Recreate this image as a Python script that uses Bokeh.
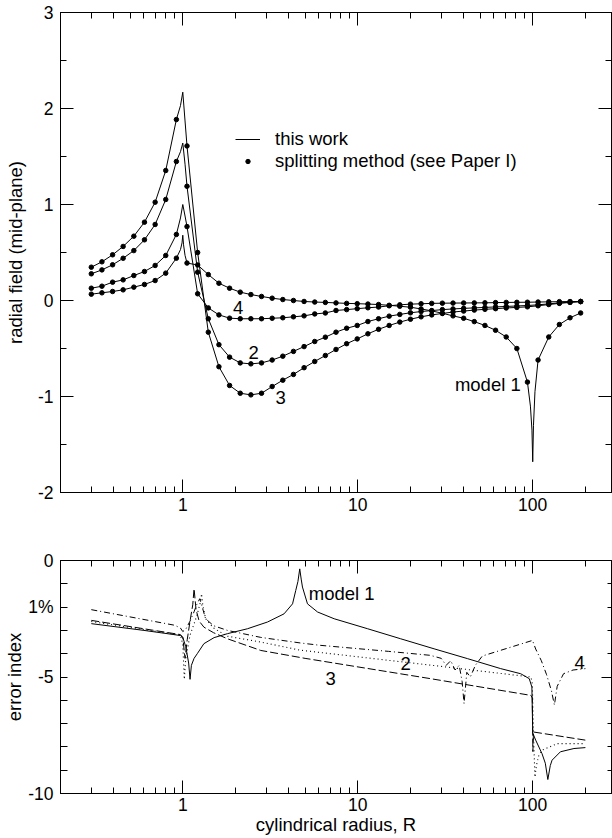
from bokeh.plotting import figure
from bokeh.models import (Range1d, LogAxis, LinearAxis, FixedTicker, Label,
                          Legend, LegendItem, CustomJSTickFormatter)
from bokeh.layouts import column
from bokeh.embed import file_html
from bokeh.resources import INLINE

FONT = "Liberation Sans"

# ---------------- top panel data: radial field (mid-plane) ----------------
R_DOTS = [0.300, 0.345, 0.397, 0.456, 0.525, 0.604, 0.695, 0.799, 0.919,
          1.057, 1.216, 1.399, 1.609, 1.851, 2.130, 2.450, 2.818, 3.242, 3.729,
          4.290, 4.934, 5.676, 6.529, 7.510, 8.639, 9.93, 11.43, 13.15, 15.12,
          17.39, 20.01, 23.01, 26.47, 30.45, 35.03, 40.29, 46.35, 53.32, 61.33,
          70.55, 81.16, 93.3, 107.3, 123.5, 142.0, 163.4, 187.9]

FIELD_M1 = [0.066, 0.080, 0.094, 0.111, 0.139, 0.167, 0.208, 0.285, 0.441,
            0.390, 0.370, 0.270, 0.180, 0.128, 0.087, 0.062, 0.042, 0.024, 0.010,
            0.000, -0.010, -0.016, -0.020, -0.025, -0.030, -0.033, -0.037, -0.042, -0.050,
            -0.060, -0.070, -0.088, -0.108, -0.133, -0.160, -0.185, -0.220, -0.260, -0.310,
            -0.380, -0.500, -0.850, -0.620, -0.380, -0.250, -0.180, -0.130]
FIELD_M2 = [0.278, 0.319, 0.372, 0.440, 0.520, 0.632, 0.792, 1.052, 1.448,
            1.190, 0.295, -0.190, -0.460, -0.590, -0.650, -0.660, -0.650, -0.620, -0.580,
            -0.530, -0.480, -0.427, -0.382, -0.330, -0.289, -0.260, -0.219, -0.190, -0.163,
            -0.145, -0.128, -0.115, -0.105, -0.095, -0.088, -0.082, -0.077, -0.072, -0.067,
            -0.062, -0.057, -0.052, -0.045, -0.035, -0.025, -0.017, -0.010]
FIELD_M3 = [0.347, 0.403, 0.476, 0.563, 0.670, 0.816, 1.024, 1.354, 1.885,
            1.610, 0.500, -0.330, -0.690, -0.885, -0.966, -0.983, -0.966, -0.896, -0.830,
            -0.770, -0.700, -0.635, -0.573, -0.510, -0.450, -0.400, -0.347, -0.300, -0.260,
            -0.225, -0.195, -0.170, -0.150, -0.135, -0.120, -0.110, -0.100, -0.092, -0.085,
            -0.078, -0.072, -0.066, -0.055, -0.042, -0.030, -0.020, -0.012]
FIELD_M4 = [0.128, 0.149, 0.191, 0.215, 0.260, 0.302, 0.365, 0.469, 0.688,
            0.770, 0.070, -0.077, -0.150, -0.184, -0.190, -0.190, -0.190, -0.185, -0.180,
            -0.170, -0.160, -0.140, -0.130, -0.104, -0.095, -0.085, -0.076, -0.068, -0.055,
            -0.045, -0.038, -0.034, -0.030, -0.028, -0.027, -0.026, -0.025, -0.024, -0.022,
            -0.020, -0.019, -0.018, -0.016, -0.014, -0.012, -0.011, -0.010]

# extra points of the continuous solutions at the edge cusps
CUSP_R_M1 = [0.97, 0.99, 1.0, 1.01, 1.03, 97.0, 99.0, 100.0, 101.0, 103.0]
CUSP_M1 = [0.53, 0.60, 0.68, 0.58, 0.47, -1.10, -1.35, -1.68, -1.30, -0.95]
CUSP_R_M2 = [0.97, 1.0, 1.03]
CUSP_M2 = [1.55, 1.64, 1.42]
CUSP_R_M3 = [0.97, 1.0, 1.03]
CUSP_M3 = [2.03, 2.17, 1.87]
CUSP_R_M4 = [0.97, 1.0, 1.03]
CUSP_M4 = [0.86, 1.00, 0.88]

# ---------------- bottom panel data: error index ----------------
ERR_R_M1 = [0.3, 0.6, 0.97, 1.0, 1.04, 1.08, 1.10, 1.12, 1.16, 1.21, 1.32, 1.51, 1.8,
            2.34, 3.05, 3.79, 4.24, 4.42, 4.55, 4.66, 4.75, 4.83, 5.16, 5.89, 7.33,
            11.4, 17.6, 27.3, 42.3, 65.6, 85.4, 95.5, 98.9, 100.0, 104.0, 113.0,
            118.0, 122.0, 126.0, 129.0, 144.0, 172.0, 200.0]
ERR_M1 = [-2.71, -3.00, -3.22, -3.30, -3.70, -4.40, -5.10, -4.50, -4.20, -4.00, -3.57, -3.31, -3.14,
          -2.93, -2.64, -2.29, -1.86, -1.29, -0.90, -0.36, -0.80, -1.14, -1.86, -2.21, -2.50,
          -2.93, -3.36, -3.79, -4.21, -4.64, -4.86, -5.07, -5.43, -7.40, -7.71, -8.29,
          -8.70, -9.40, -8.80, -8.57, -8.21, -8.07, -8.03]

ERR_R_M2 = [0.3, 0.97, 1.0, 1.02, 1.04, 1.1, 1.2, 1.26, 1.28, 1.3, 1.35, 1.5, 1.8, 2.79,
            4.7, 26.0, 97.7, 99.5, 101.0, 103.0, 105.0, 108.0, 113.0, 138.0, 200.0]
ERR_M2 = [-2.62, -3.20, -3.60, -5.10, -4.20, -3.20, -2.40, -1.80, -1.43, -1.90, -2.50, -2.90, -3.25, -3.50,
          -3.85, -4.49, -5.00, -5.30, -7.50, -9.30, -8.80, -8.40, -8.14, -7.86, -7.86]

ERR_R_M3 = [0.3, 0.97, 1.0, 1.03, 1.06, 1.1, 1.14, 1.16, 1.19, 1.24, 1.32, 1.5, 1.8, 2.79,
            5.0, 26.0, 97.7, 99.5, 100.2, 101.0, 200.0]
ERR_M3 = [-2.57, -3.18, -3.30, -4.20, -3.40, -2.60, -1.90, -1.21, -2.10, -2.60, -2.86, -3.10, -3.36, -3.86,
          -4.20, -5.07, -5.79, -5.90, -8.20, -7.36, -7.71]

ERR_R_M4 = [0.3, 0.9, 0.97, 1.0, 1.04, 1.1, 1.16, 1.2, 1.25, 1.28, 1.35, 1.5, 1.8, 2.79,
            4.7, 6.1, 15.0, 26.0, 30.0, 32.0, 34.0, 36.0, 38.0, 39.5, 40.5, 42.0, 44.0,
            47.0, 51.5, 99.7, 104.0, 112.0, 120.0, 128.0, 133.0, 138.0, 150.0, 170.0, 200.0]
ERR_M4 = [-2.11, -2.78, -2.90, -3.05, -2.95, -2.60, -2.20, -1.90, -1.64, -1.90, -2.50, -2.80, -3.00, -3.30,
          -3.54, -3.64, -3.90, -4.07, -4.20, -4.50, -4.30, -4.70, -4.50, -5.20, -6.14, -4.80, -5.00,
          -4.50, -4.10, -3.43, -3.80, -4.30, -4.90, -5.60, -6.20, -5.40, -4.86, -4.70, -4.64]

X_MAJOR = [1, 10, 100]
X_MINOR = [0.2, 0.3, 0.4, 0.5, 0.6, 0.7, 0.8, 0.9, 2, 3, 4, 5, 6, 7, 8, 9,
           20, 30, 40, 50, 60, 70, 80, 90, 200]
Y1_MAJOR = [-2, -1, 0, 1, 2, 3]
Y1_MINOR = [-1.5, -0.5, 0.5, 1.5, 2.5]
Y2_MAJOR = [0, -2, -5, -10]
Y2_MINOR = [-1, -3, -4, -6, -7, -8, -9]

X_RANGE = (0.2, 282)

TICK_FS = "17.5px"
TEXT_FS = "18.5px"


def style_axis(ax, show_labels=True):
    ax.axis_line_color = "black"
    ax.major_tick_line_color = "black"
    ax.minor_tick_line_color = "black"
    ax.major_tick_in = 13
    ax.major_tick_out = 0
    ax.minor_tick_in = 6
    ax.minor_tick_out = 0
    ax.major_label_text_font = FONT
    ax.major_label_text_font_size = TICK_FS
    ax.major_label_text_color = "black"
    ax.axis_label_text_font = FONT
    ax.axis_label_text_font_size = TEXT_FS
    ax.axis_label_text_font_style = "normal"
    ax.axis_label_text_color = "black"
    if show_labels:
        ax.formatter = CustomJSTickFormatter(code="return tick.toString()")
    else:
        ax.formatter = CustomJSTickFormatter(code="return ''")
        ax.major_label_standoff = 0


def merged(xs1, ys1, xs2, ys2):
    pts = sorted(zip(list(xs1) + list(xs2), list(ys1) + list(ys2)))
    return [p[0] for p in pts], [p[1] for p in pts]


# ---------------- top figure ----------------
p1 = figure(width=612, height=520, x_axis_type="log",
            x_range=Range1d(*X_RANGE), y_range=Range1d(-2, 3),
            output_backend="svg", toolbar_location=None,
            min_border_left=60, min_border_right=1, min_border_top=12, min_border_bottom=28)
p1.xgrid.visible = False
p1.ygrid.visible = False
p1.outline_line_color = "black"

p1.xaxis[0].ticker = FixedTicker(ticks=X_MAJOR, minor_ticks=X_MINOR)
style_axis(p1.xaxis[0])
p1.xaxis[0].major_label_standoff = 5
p1.yaxis[0].ticker = FixedTicker(ticks=Y1_MAJOR, minor_ticks=Y1_MINOR)
p1.yaxis[0].axis_label = "radial field (mid-plane)"
style_axis(p1.yaxis[0])
p1.yaxis[0].major_label_standoff = 7
p1.yaxis[0].axis_label_standoff = 9
top_ax = LogAxis(ticker=FixedTicker(ticks=X_MAJOR, minor_ticks=X_MINOR))
style_axis(top_ax, False)
p1.add_layout(top_ax, "above")
right_ax = LinearAxis(ticker=FixedTicker(ticks=Y1_MAJOR, minor_ticks=Y1_MINOR))
style_axis(right_ax, False)
p1.add_layout(right_ax, "right")

line_r = None
dot_r = None
for vals, cr, cv in [(FIELD_M1, CUSP_R_M1, CUSP_M1), (FIELD_M2, CUSP_R_M2, CUSP_M2),
                     (FIELD_M3, CUSP_R_M3, CUSP_M3), (FIELD_M4, CUSP_R_M4, CUSP_M4)]:
    lx, ly = merged(R_DOTS, vals, cr, cv)
    lr = p1.line(lx, ly, line_color="black", line_width=1)
    dr = p1.scatter(R_DOTS, vals, marker="circle", size=4.5,
                    fill_color="black", line_color="black")
    if line_r is None:
        line_r, dot_r = lr, dr

leg_common = dict(orientation="vertical", border_line_color=None, background_fill_alpha=0,
                  padding=0, margin=0, spacing=0, glyph_height=20, label_height=20,
                  label_text_font=FONT, label_text_font_size=TEXT_FS, label_text_color="black")
legend_a = Legend(items=[LegendItem(label="this work", renderers=[line_r])],
                  location=(175, 342), glyph_width=25, label_standoff=15, **leg_common)
legend_b = Legend(items=[LegendItem(label="splitting method (see Paper I)", renderers=[dot_r])],
                  location=(182, 320), glyph_width=11, label_standoff=22, **leg_common)
p1.add_layout(legend_a)
p1.add_layout(legend_b)

for txt, x, y, align in [("4", 2.07, -0.076, "center"), ("2", 2.54, -0.54, "center"),
                         ("3", 3.63, -1.01, "center"), ("model 1", 85.4, -0.88, "right")]:
    p1.add_layout(Label(x=x, y=y, text=txt, text_align=align, text_baseline="middle",
                        text_font=FONT, text_font_size=TEXT_FS, text_color="black"))

# ---------------- bottom figure ----------------
p2 = figure(width=612, height=317, x_axis_type="log",
            x_range=Range1d(*X_RANGE), y_range=Range1d(-10, 0),
            output_backend="svg", toolbar_location=None,
            min_border_left=60, min_border_right=1, min_border_top=40, min_border_bottom=44)
p2.xgrid.visible = False
p2.ygrid.visible = False
p2.outline_line_color = "black"

p2.xaxis[0].ticker = FixedTicker(ticks=X_MAJOR, minor_ticks=X_MINOR)
p2.xaxis[0].axis_label = "cylindrical radius, R"
style_axis(p2.xaxis[0])
p2.xaxis[0].major_label_standoff = 4
p2.xaxis[0].axis_label_standoff = 0
p2.yaxis[0].ticker = FixedTicker(ticks=Y2_MAJOR, minor_ticks=Y2_MINOR)
p2.yaxis[0].axis_label = "error index"
style_axis(p2.yaxis[0])
p2.yaxis[0].formatter = CustomJSTickFormatter(
    code="return tick == -2 ? '1%' : tick.toString()")
p2.yaxis[0].major_label_standoff = 7
p2.yaxis[0].axis_label_standoff = 0
p2.yaxis[0].major_tick_in = 7
p2.yaxis[0].minor_tick_in = 7
top_ax2 = LogAxis(ticker=FixedTicker(ticks=X_MAJOR, minor_ticks=X_MINOR))
style_axis(top_ax2, False)
p2.add_layout(top_ax2, "above")
right_ax2 = LinearAxis(ticker=FixedTicker(ticks=[0, -5, -10], minor_ticks=[-1, -2, -3, -4, -6, -7, -8, -9]))
style_axis(right_ax2, False)
right_ax2.major_tick_in = 10
right_ax2.minor_tick_in = 4
p2.add_layout(right_ax2, "right")

p2.line(ERR_R_M1, ERR_M1, line_color="black", line_width=1)
p2.line(ERR_R_M2, ERR_M2, line_color="black", line_width=1.1, line_dash="1 3")
p2.line(ERR_R_M3, ERR_M3, line_color="black", line_width=1, line_dash="8 3")
p2.line(ERR_R_M4, ERR_M4, line_color="black", line_width=1, line_dash="6 3 1 3")

for txt, x, y, align in [("model 1", 5.25, -1.41, "left"), ("2", 18.8, -4.41, "center"),
                         ("3", 7.0, -5.06, "center"), ("4", 185.7, -4.37, "center")]:
    p2.add_layout(Label(x=x, y=y, text=txt, text_align=align, text_baseline="middle",
                        text_font=FONT, text_font_size=TEXT_FS, text_color="black"))

layout = column(p1, p2, spacing=0)
open("out.html", "w").write(file_html(layout, INLINE))
